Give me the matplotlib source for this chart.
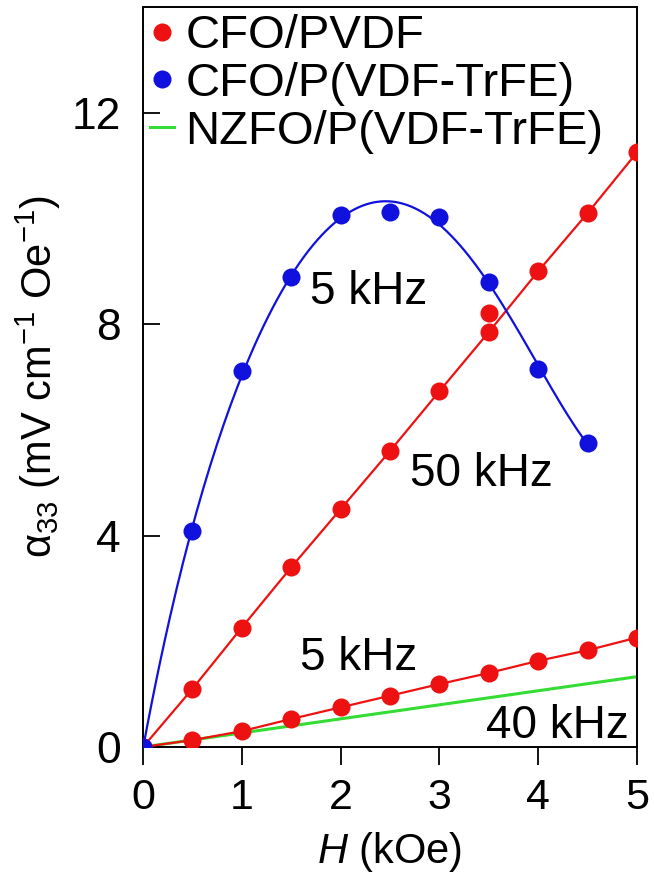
import numpy as np
import matplotlib
matplotlib.use("Agg")
import matplotlib.pyplot as plt

plt.rcParams["font.family"] = ["Liberation Sans", "DejaVu Sans"]
plt.rcParams["mathtext.fontset"] = "custom"
plt.rcParams["mathtext.rm"] = "Liberation Sans"
plt.rcParams["mathtext.it"] = "Liberation Sans:italic"

# Magnetic field (kOe)
field = [0, 0.5, 1.0, 1.5, 2.0, 2.5, 3.0, 3.5, 4.0, 4.5, 5.0]

# CFO/PVDF at 50 kHz and 5 kHz
pvdf_50k = [0, 1.10, 2.26, 3.40, 4.50, 5.60, 6.73, 7.85, 9.00, 10.10, 11.25]
pvdf_50k_extra_x = [3.5]
pvdf_50k_extra_y = [8.22]
pvdf_5k = [0, 0.13, 0.30, 0.53, 0.75, 0.97, 1.19, 1.40, 1.63, 1.83, 2.07]

# CFO/P(VDF-TrFE) at 5 kHz
trfe_field = [0, 0.5, 1.0, 1.5, 2.0, 2.5, 3.0, 3.5, 4.0, 4.5]
trfe_5k = [0, 4.08, 7.12, 8.90, 10.07, 10.12, 10.03, 8.80, 7.15, 5.75]

# NZFO/P(VDF-TrFE) at 40 kHz
nzfo_field = [0, 5.0]
nzfo_40k = [0, 1.33]

RED = "#ee1111"
BLUE = "#1111dd"
GREEN = "#33dd33"
MS = 13

fig = plt.figure(figsize=(6.54, 8.75), dpi=100)
ax = fig.add_axes([0.2187, 0.1463, 0.7553, 0.8457])

ax.plot(nzfo_field, nzfo_40k, color=GREEN, lw=2.2, zorder=2)
ax.plot(field, pvdf_5k, color=RED, lw=1.6, marker="o", ms=MS,
        markeredgewidth=0, zorder=3)
ax.plot(field, pvdf_50k, color=RED, lw=1.6, marker="o", ms=MS,
        markeredgewidth=0, zorder=3)
ax.plot(pvdf_50k_extra_x, pvdf_50k_extra_y, "o", color=RED, ms=MS,
        markeredgewidth=0, zorder=3)

# polynomial fit through the P(VDF-TrFE) points
coef = np.polyfit(trfe_field, trfe_5k, 5)
fx = np.linspace(trfe_field[0], trfe_field[-1], 200)
ax.plot(fx, np.polyval(coef, fx), color=BLUE, lw=1.6, zorder=3)
ax.plot(trfe_field, trfe_5k, "o", color=BLUE, ms=MS, markeredgewidth=0,
        zorder=4)

# legend handles
ax.plot([], [], "o", color=RED, ms=MS, markeredgewidth=0, label="CFO/PVDF")
ax.plot([], [], "o", color=BLUE, ms=MS, markeredgewidth=0,
        label="CFO/P(VDF-TrFE)")
ax.plot([], [], color=GREEN, lw=2.2, label="NZFO/P(VDF-TrFE)")
handles, labels = ax.get_legend_handles_labels()
ax.legend(handles, labels, loc="upper left", frameon=False, fontsize=34,
          handlelength=0.5, handletextpad=0.25, borderaxespad=0.0,
          labelspacing=0.08, borderpad=0.15)

ax.text(1.69, 8.38, "5 kHz", fontsize=33, va="baseline")
ax.text(2.70, 4.93, "50 kHz", fontsize=33, va="baseline")
ax.text(1.59, 1.46, "5 kHz", fontsize=33, va="baseline")
ax.text(4.92, 0.17, "40 kHz", fontsize=33, va="baseline", ha="right")

ax.set_xlim(0, 5)
ax.set_ylim(0, 14)
ax.set_xticks([0, 1, 2, 3, 4, 5])
ax.set_yticks([0, 4, 8, 12])
ax.tick_params(axis="x", direction="out", length=13, width=1.3,
               labelsize=31, pad=9)
ax.tick_params(axis="y", direction="in", length=12, width=1.3,
               labelsize=32, pad=16)
for s in ax.spines.values():
    s.set_linewidth(1.4)

ax.set_xlabel(r"$\mathit{H}$ (kOe)", fontsize=30, labelpad=9)
ax.set_ylabel(r"$\mathrm{\alpha}_{33}$ (mV cm$^{-1}$ Oe$^{-1}$)",
              fontsize=30, labelpad=6)

fig.savefig("out.png", dpi=100)
